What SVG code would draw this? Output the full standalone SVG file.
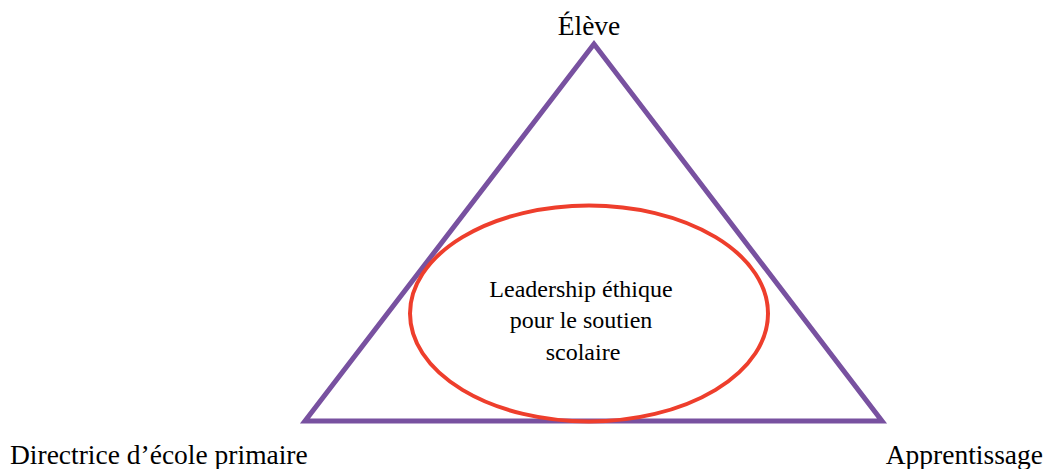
<svg xmlns="http://www.w3.org/2000/svg" width="1047" height="469" viewBox="0 0 1047 469">
<style>
text{font-family:"Liberation Serif","Times New Roman",serif;fill:#000}
.lbl{font-size:27.5px}
.inner{font-size:24px}
</style>
<rect width="1047" height="469" fill="#fff"/>
<g id="connectors">
<polygon id="triangle" points="594,44 305,421 882,421" fill="none" stroke="#7851a0" stroke-width="5" stroke-linejoin="miter"/>
</g>
<g id="node-center">
<ellipse cx="589" cy="313.5" rx="179" ry="108" fill="none" stroke="#ee3e2c" stroke-width="4"/>
<text class="inner" x="581" y="297" text-anchor="middle">Leadership éthique</text>
<text class="inner" x="581" y="328" text-anchor="middle">pour le soutien</text>
<text class="inner" x="583" y="360" text-anchor="middle">scolaire</text>
</g>
<g id="node-eleve"><text class="lbl" x="589" y="35" text-anchor="middle">Élève</text></g>
<g id="node-directrice"><text class="lbl" x="10" y="464">Directrice d’école primaire</text></g>
<g id="node-apprentissage"><text class="lbl" x="1043" y="464" text-anchor="end">Apprentissage</text></g>
</svg>
